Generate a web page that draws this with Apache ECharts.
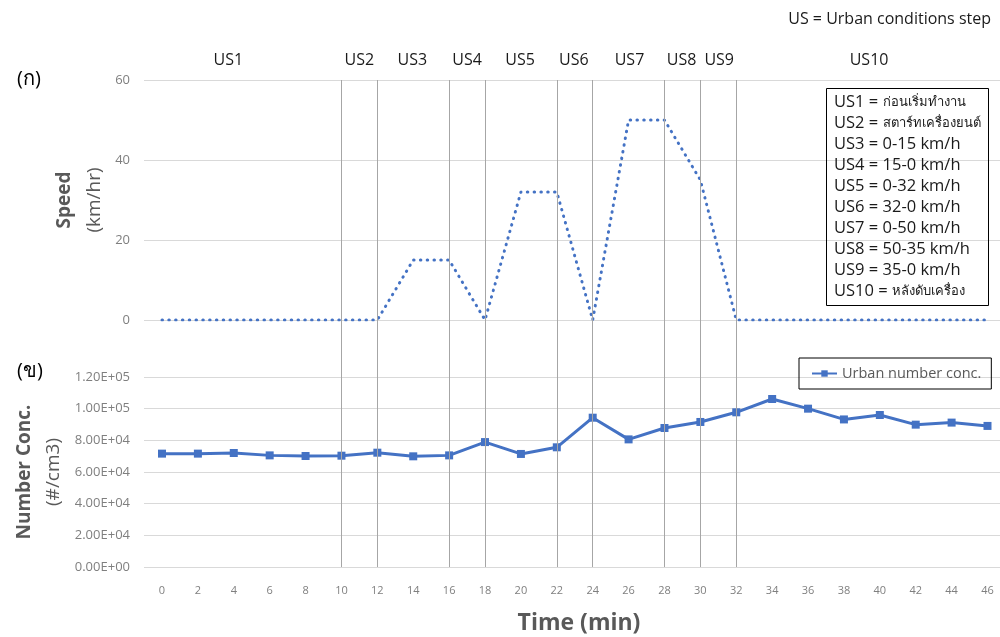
<!DOCTYPE html>
<html>
<head>
<meta charset="utf-8">
<script src="https://cdn.jsdelivr.net/npm/echarts@6/dist/echarts.min.js"></script>
<style>html,body{margin:0;padding:0;background:#fff}#c{width:1000px;height:637px}</style>
</head>
<body>
<div id="c"></div>
<script>
const minutes = ['0','2','4','6','8','10','12','14','16','18','20','22','24','26','28','30','32','34','36','38','40','42','44','46'];
const speed = [0,0,0,0,0,0,0,15,15,0,32,32,0,50,50,35,0,0,0,0,0,0,0,0];
const conc = [71600,71600,72000,70500,70100,70300,72200,69900,70500,78900,71400,75600,94300,80600,87800,91600,97700,106100,100000,93200,96000,89900,91200,89100];
const stepBounds = [10,12,16,18,22,24,28,30,32];
const stepLabels = ['US1','US2','US3','US4','US5','US6','US7','US8','US9','US10'];
const stepLabelAt = [3.7,11.0,13.95,17.0,19.95,22.95,26.05,28.95,31.05,39.4];
const noteCodes = ['US1','US2','US3','US4','US5','US6','US7','US8','US9','US10'];
const noteDescs = ['ก่อนเริ่มทำงาน','สตาร์ทเครื่องยนต์','0-15 km/h','15-0 km/h','0-32 km/h','32-0 km/h','0-50 km/h','50-35 km/h','35-0 km/h','หลังดับเครื่อง'];
const speedTicks = [0,60,20];
const concTicks = [0,120000,20000];

const FONT = "'Open Sans', 'Noto Sans', sans-serif";
const BLUE = '#4472C4';
function sci(v){
  if (v === 0) return '0.00E+00';
  const e = Math.floor(Math.log10(v));
  const m = v / Math.pow(10, e);
  return m.toFixed(2) + 'E+' + String(e).padStart(2, '0');
}
const isThai = s => /[\u0E00-\u0E7F]/.test(s);
const noteText = noteCodes.map((c, i) =>
  '{a|' + c + ' = }' + (isThai(noteDescs[i]) ? '{t|' + noteDescs[i] + '}' : '{a|' + noteDescs[i] + '}')
).join('\n');

const DATA_L = 162, DATA_R = 12.5;
const chart = echarts.init(document.getElementById('c'), null, {renderer: 'canvas'});
const hiddenX = (gi) => ({type: 'value', gridIndex: gi, min: 0, max: 1, show: false});
const option = {
  animation: false,
  backgroundColor: '#fff',
  textStyle: {fontFamily: FONT},
  title: [{
    text: noteText,
    left: 826, top: 88,
    padding: [4, 8, 4, 8],
    borderColor: '#000', borderWidth: 1,
    textStyle: {fontFamily: FONT, fontSize: 16, fontWeight: 'normal', color: '#1a1a1a', lineHeight: 21,
      rich: {
        a: {fontFamily: FONT, fontSize: 16.5, color: '#1a1a1a', lineHeight: 21},
        t: {fontFamily: FONT, fontSize: 13, color: '#1a1a1a', lineHeight: 21}
      }}
  }, {
    text: 'US = Urban conditions step',
    right: 4, top: 6,
    textStyle: {fontFamily: FONT, fontSize: 16, fontWeight: 'normal', color: '#1a1a1a'}
  }, {
    text: '(ก)', left: 12, top: 64,
    textStyle: {fontFamily: FONT, fontSize: 20, fontWeight: 'normal', color: '#000'}
  }, {
    text: '(ข)', left: 12, top: 356,
    textStyle: {fontFamily: FONT, fontSize: 20, fontWeight: 'normal', color: '#000'}
  }, {
    text: 'Time (min)', left: 574, top: 607, textAlign: 'center',
    textStyle: {fontFamily: FONT, fontSize: 23, fontWeight: 'bold', color: '#595959'}
  }],
  legend: {
    data: ['Urban number conc.'],
    left: 799, top: 358, width: 190, height: 33,
    padding: [8, 10, 8, 12],
    borderColor: '#000', borderWidth: 1,
    itemWidth: 25, itemHeight: 8, itemGap: 2,
    textStyle: {fontFamily: FONT, fontSize: 14.5, color: '#595959'}
  },
  grid: [
    {left: DATA_L, right: DATA_R, top: 80, height: 240},
    {left: DATA_L, right: DATA_R, top: 377, height: 190},
    {left: DATA_L, right: DATA_R, top: 80, height: 487},
    {left: 144, right: 0, top: 80, height: 240},
    {left: 144, right: 0, top: 377, height: 190}
  ],
  xAxis: [
    {type: 'category', gridIndex: 0, data: minutes, boundaryGap: false,
     axisLine: {show: false}, axisTick: {show: false}, axisLabel: {show: false}, splitLine: {show: false}},
    {type: 'category', gridIndex: 1, data: minutes, boundaryGap: false,
     axisLine: {show: false}, axisTick: {show: false},
     axisLabel: {show: true, color: '#7f7f7f', fontSize: 11, margin: 18, fontFamily: FONT}, splitLine: {show: false}},
    {type: 'value', gridIndex: 2, min: 0, max: 46, show: false},
    hiddenX(3),
    hiddenX(4)
  ],
  yAxis: [
    {type: 'value', gridIndex: 0, min: speedTicks[0], max: speedTicks[1], interval: speedTicks[2], show: false},
    {type: 'value', gridIndex: 1, min: concTicks[0], max: concTicks[1], interval: concTicks[2], show: false},
    {type: 'value', gridIndex: 2, min: 0, max: 1, show: false},
    {type: 'value', gridIndex: 3, min: speedTicks[0], max: speedTicks[1], interval: speedTicks[2],
     axisLine: {show: false}, axisTick: {show: false},
     axisLabel: {color: '#7f7f7f', fontSize: 13, margin: 14, fontFamily: FONT},
     splitLine: {show: true, lineStyle: {color: '#d9d9d9', width: 1}},
     name: '{b|Speed}\n{n|(km/hr)}', nameLocation: 'middle', nameRotate: 90, nameGap: 33,
     nameTextStyle: {rich: {
       b: {fontFamily: FONT, fontWeight: 'bold', fontSize: 19, color: '#595959', lineHeight: 30},
       n: {fontFamily: FONT, fontWeight: 'normal', fontSize: 19, color: '#595959', lineHeight: 30}}}},
    {type: 'value', gridIndex: 4, min: concTicks[0], max: concTicks[1], interval: concTicks[2],
     axisLine: {show: false}, axisTick: {show: false},
     axisLabel: {color: '#7f7f7f', fontSize: 13, margin: 14, fontFamily: FONT, formatter: sci},
     splitLine: {show: true, lineStyle: {color: '#d9d9d9', width: 1}},
     name: '{b|Number Conc.}\n{n|(#/cm3)}', nameLocation: 'middle', nameRotate: 90, nameGap: 76,
     nameTextStyle: {rich: {
       b: {fontFamily: FONT, fontWeight: 'bold', fontSize: 19, color: '#595959', lineHeight: 29},
       n: {fontFamily: FONT, fontWeight: 'normal', fontSize: 19, color: '#595959', lineHeight: 29}}}}
  ],
  series: [
    {type: 'line', xAxisIndex: 2, yAxisIndex: 2, data: [], silent: true, z: 1,
     markLine: {silent: true, symbol: ['none', 'none'], label: {show: false},
       lineStyle: {color: '#a6a6a6', width: 1, type: 'solid'},
       data: stepBounds.map(v => ({xAxis: v}))}},
    {name: 'Speed', type: 'line', xAxisIndex: 0, yAxisIndex: 0, data: speed,
     symbol: 'none', z: 3,
     lineStyle: {color: BLUE, width: 3, type: [0.5, 6.3], cap: 'round'}},
    {name: 'Urban number conc.', type: 'line', xAxisIndex: 1, yAxisIndex: 1, data: conc,
     symbol: 'rect', symbolSize: 8, z: 3,
     itemStyle: {color: BLUE}, lineStyle: {color: BLUE, width: 3}}
  ]
};
chart.setOption(option);
const g = stepLabels.map((t, i) => {
  const p = chart.convertToPixel({gridIndex: 2}, [stepLabelAt[i], 0]);
  return {type: 'text', x: p[0], y: 60,
    style: {text: t, fontFamily: FONT, fontSize: 16, fill: '#1a1a1a', align: 'center', verticalAlign: 'middle'}};
});
chart.setOption({graphic: g});
</script>
</body>
</html>
